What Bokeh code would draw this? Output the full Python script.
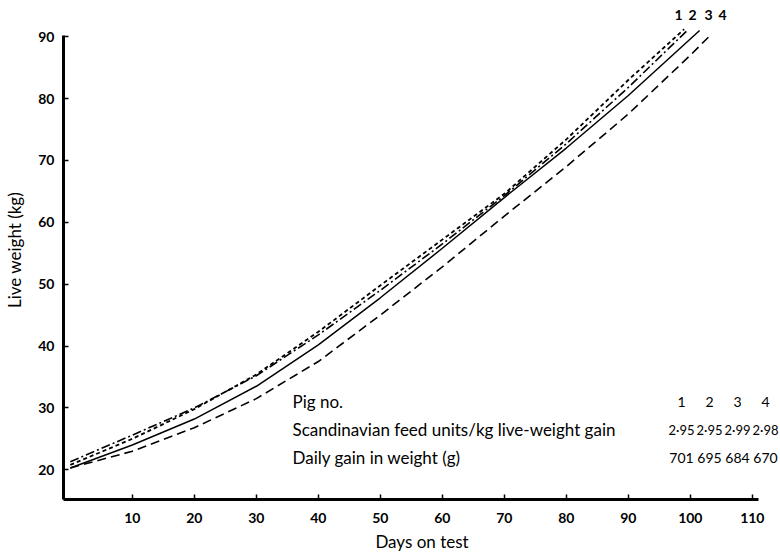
from bokeh.plotting import figure
from bokeh.models import Range1d, FixedTicker, Label
from bokeh.embed import file_html
from bokeh.resources import INLINE

# ---- data ----
pig_numbers = ["1", "2", "3", "4"]

pig1_days = [0, 10, 20, 30, 40, 50, 60, 70, 80, 90, 99]
pig1_weight = [20.8, 25.0, 29.8, 35.4, 42.3, 49.8, 57.2, 64.6, 73.4, 83.0, 91.2]

pig2_days = [0, 10, 20, 30, 40, 50, 60, 70, 80, 90, 99.5]
pig2_weight = [21.3, 25.6, 30.0, 35.2, 41.8, 49.0, 56.5, 64.3, 72.7, 81.8, 91.0]

pig3_days = [0, 10, 20, 30, 40, 50, 60, 70, 80, 90, 101.5]
pig3_weight = [20.3, 24.0, 28.2, 33.5, 40.2, 47.8, 55.8, 64.0, 72.0, 80.5, 91.0]

pig4_days = [0, 10, 20, 30, 40, 50, 60, 70, 80, 90, 100, 103.5]
pig4_weight = [20.3, 23.0, 26.8, 31.5, 37.5, 45.0, 52.8, 61.0, 69.0, 77.5, 87.0, 90.5]

feed_units = ["2·95", "2·95", "2·99", "2·98"]
daily_gain = ["701", "695", "684", "670"]

row_labels = ["Pig no.",
              "Scandinavian feed units/kg live-weight gain",
              "Daily gain in weight (g)"]

x_ticks = [10, 20, 30, 40, 50, 60, 70, 80, 90, 100, 110]
y_ticks = [20, 30, 40, 50, 60, 70, 80, 90]

# ---- layout ----
W, H = 780, 554
LEFT, RIGHT, TOP, BOTTOM = 63, 0, 0, 54
PX_PER_UNIT = 6.2
X0, Y0 = -1.1, 15.2
X1 = X0 + (W - LEFT - RIGHT) / PX_PER_UNIT
Y1 = Y0 + (H - TOP - BOTTOM) / PX_PER_UNIT
X_AXIS_END, Y_AXIS_END = 111.0, 90.2


def px2x(px):
    return X0 + (px - LEFT) / PX_PER_UNIT


def px2y(py):
    return Y1 - (py - TOP) / PX_PER_UNIT


FONT = "Lato"

p = figure(width=W, height=H, output_backend="svg", toolbar_location=None,
           x_range=Range1d(X0, X1), y_range=Range1d(Y0, Y1),
           min_border_left=LEFT, min_border_right=RIGHT,
           min_border_top=TOP, min_border_bottom=BOTTOM)
p.outline_line_color = None
p.grid.visible = False
p.background_fill_color = "white"
p.border_fill_color = "white"

for ax in (p.xaxis[0], p.yaxis[0]):
    ax.axis_line_width = 3
    ax.axis_line_color = "black"
    ax.major_tick_in = 5
    ax.major_tick_out = 0
    ax.major_tick_line_width = 1.5
    ax.minor_tick_line_color = None
    ax.major_label_text_font = FONT
    ax.major_label_text_font_size = "14px"
    ax.major_label_text_font_style = "bold"
    ax.major_label_text_color = "black"
    ax.axis_label_text_font = FONT
    ax.axis_label_text_font_size = "17px"
    ax.axis_label_text_font_style = "normal"
    ax.axis_label_text_color = "black"

p.xaxis.bounds = (X0, X_AXIS_END)
p.yaxis.bounds = (Y0, Y_AXIS_END)
p.xaxis.ticker = FixedTicker(ticks=x_ticks)
p.yaxis.ticker = FixedTicker(ticks=y_ticks)
p.xaxis.major_label_standoff = 13
p.yaxis.major_label_standoff = 9
p.xaxis.axis_label = "Days on test"
p.yaxis.axis_label = "Live weight (kg)"
p.xaxis.axis_label_standoff = 5
p.yaxis.axis_label_standoff = 10

series = [
    (pig1_days, pig1_weight, "4 3", 1.8),
    (pig2_days, pig2_weight, "9 3 2 3", 1.6),
    (pig3_days, pig3_weight, "solid", 1.5),
    (pig4_days, pig4_weight, "9 5", 1.6),
]
for d, w, dash, lw in series:
    p.line(d, w, line_color="black", line_width=lw, line_dash=dash)

# curve-end numbers
end_px = [678, 692, 708, 722]
for num, xp in zip(pig_numbers, end_px):
    p.add_layout(Label(x=px2x(xp), y=px2y(15), text=num, text_align="center",
                       text_baseline="middle", text_font=FONT,
                       text_font_size="14px", text_font_style="bold",
                       text_color="black"))

# table
row_py = [402, 430, 458]
col_px = [681, 709, 737, 765]
row_sizes = ["14px", "13px", "14px"]
for lab, yp in zip(row_labels, row_py):
    p.add_layout(Label(x=px2x(292), y=px2y(yp), text=lab, text_align="left",
                       text_baseline="middle", text_font=FONT,
                       text_font_size="17px", text_color="black"))
for vals, yp, fs in zip([pig_numbers, feed_units, daily_gain], row_py, row_sizes):
    for v, xp in zip(vals, col_px):
        p.add_layout(Label(x=px2x(xp), y=px2y(yp), text=v, text_align="center",
                           text_baseline="middle", text_font=FONT,
                           text_font_size=fs, text_color="black"))

open("out.html", "w").write(file_html(p, INLINE))
